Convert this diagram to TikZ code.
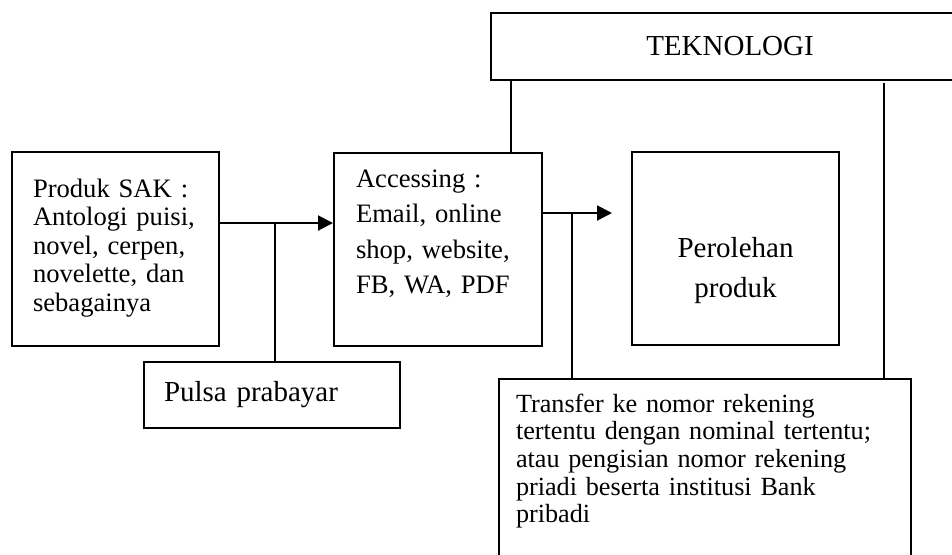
\documentclass[tikz,border=0pt]{standalone}
\usepackage{fontspec}
\setmainfont{Liberation Serif}
\usetikzlibrary{arrows.meta}

\begin{document}
\begin{tikzpicture}[x=0.5pt, y=-0.5pt,
    box/.style={draw, line width=1pt, anchor=north west, inner ysep=0pt, align=left},
    link/.style={line width=1pt},
    flow/.style={link, -{Triangle[length=7.5pt, width=7.5pt]}}]
    \useasboundingbox (0,0) rectangle (952,554);
    \clip (0,0) rectangle (952,554);

    % Technology bar across the top
    \node[box, inner sep=0pt, minimum width=239pt, minimum height=33.5pt,
          font=\fontsize{14.5}{17}\selectfont] (tek) at (490,12) {TEKNOLOGI};

    % Main row
    \node[box, inner xsep=10.5pt, text width=82.5pt, text height=22.5pt, text depth=74.5pt,
          font=\fontsize{13.3}{14.25}\selectfont] (produk) at (11,151)
        {Produk SAK :\\ Antologi puisi,\\ novel, cerpen,\\ novelette, dan\\ sebagainya};
    \node[box, inner xsep=11pt, text width=82pt, text height=17pt, text depth=79.5pt,
          font=\fontsize{13.3}{17.8}\selectfont] (access) at (333,152)
        {Accessing :\\ Email, online\\ shop, website,\\ FB, WA, PDF};
    \node[box, align=center, inner xsep=5pt, text width=93.5pt, text height=52.5pt, text depth=44pt,
          font=\fontsize{14.5}{20}\selectfont] (produkAkhir) at (631,151)
        {Perolehan\\ produk};

    % Payment boxes
    \node[box, inner xsep=10pt, text width=108pt, text height=19.5pt, text depth=13.5pt,
          font=\fontsize{14.5}{17}\selectfont] (pulsa) at (143,361) {Pulsa prabayar};
    \node[box, inner xsep=8.5pt, text width=189pt, text height=16.5pt, text depth=90pt,
          font=\fontsize{13.1}{13.85}\selectfont] (transfer) at (498,378)
        {Transfer ke nomor rekening\\ tertentu dengan nominal tertentu;\\
         atau pengisian nomor rekening\\ priadi beserta institusi Bank\\ pribadi};

    % Pulsa joins the first arrow
    \coordinate (pulsaJoin) at (275,223);
    \draw[flow] (pulsaJoin -| produk.east) -- (pulsaJoin -| access.west);
    \draw[link] (pulsaJoin) -- (pulsaJoin |- pulsa.north);

    % Transfer joins the second arrow
    \coordinate (transferJoin) at (572,213);
    \coordinate (hasil) at (612,213);
    \draw[flow] (transferJoin -| access.east) -- (hasil);
    \draw[link] (transferJoin) -- (transferJoin |- transfer.north);

    % Drops from the technology bar
    \coordinate (tekLeft) at (511,79);
    \coordinate (tekRight) at (884,83);
    \draw[link] (tekLeft |- tek.south) -- (tekLeft |- access.north);
    \draw[link] (tekRight) -- (tekRight |- transfer.north);
\end{tikzpicture}
\end{document}
